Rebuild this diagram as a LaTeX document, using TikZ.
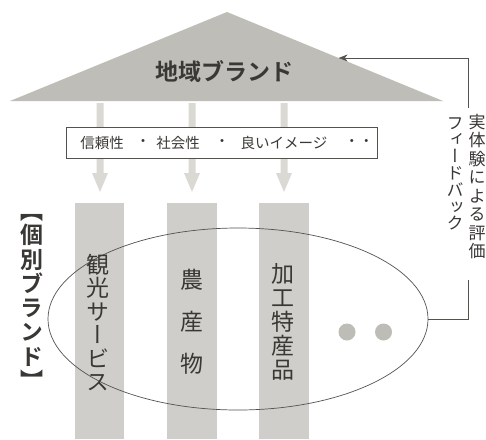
\documentclass[tikz,border=0pt]{standalone}
\usepackage{fontspec}
\usetikzlibrary{shapes.geometric,arrows.meta}
\newfontfamily\jp[BoldFont={Noto Sans CJK JP Bold}]{Noto Sans CJK JP}
\newfontfamily\jpv[RawFeature=+vert,BoldFont={Noto Sans CJK JP Bold}]{Noto Sans CJK JP}
\definecolor{trig}{HTML}{BEBDB8}
\definecolor{barg}{HTML}{CFCECA}
\definecolor{arrg}{HTML}{DAD9D4}
\definecolor{dotg}{HTML}{BDBCB6}
\definecolor{txt}{HTML}{3A3835}
\definecolor{linec}{HTML}{55524E}
\begin{document}
\begin{tikzpicture}[x=1pt,y=-1pt,
  barbox/.style={fill=barg,draw=none},
  grayarrow/.style={fill=arrg,draw=none},
  vtext/.style={align=center,inner sep=0pt,text=txt},
  boxtext/.style={inner sep=0pt,text=txt,font=\jp\fontsize{14.5}{15}\selectfont},
  thinline/.style={draw=linec,line width=0.7pt}]
\useasboundingbox[fill=white] (0,0) rectangle (486,439);
% triangle
\coordinate (apex) at (227,12);
\coordinate (bl) at (10,101);
\coordinate (br) at (443,101);
\fill[trig] (apex) -- (bl) -- (br) -- cycle;
\node[vtext,font=\jp\bfseries\fontsize{23}{24}\selectfont] (chiiki) at (224,72) {地域ブランド};
% gray arrows
\foreach \cx/\nm in {100/a1,192/a2,284/a3}{
  \fill[grayarrow] (\cx-3.5,103) -- (\cx+3.5,103) -- (\cx+3.5,173) -- (\cx+8,173)
     -- (\cx,192) -- (\cx-8,173) -- (\cx-3.5,173) -- cycle;
}
% box of values
\node[draw=linec,line width=0.6pt,fill=white,minimum width=311pt,minimum height=31pt,inner sep=0pt] (valbox) at (221.5,142.5) {};
\node[boxtext] (v1) at (102,143) {信頼性};
\node[boxtext] (d1) at (143,143) {・};
\node[boxtext] (v2) at (178,143) {社会性};
\node[boxtext] (d2) at (222,143) {・};
\node[boxtext] (v3) at (284,143) {良いイメージ};
\node[boxtext] (d3) at (359,143) {・・};
% bars
\fill[barbox] (75,203) rectangle (124,439);
\fill[barbox] (167,203) rectangle (217,439);
\fill[barbox] (259,203) rectangle (309,439);
% ellipse
\node[thinline,ellipse,minimum width=380pt,minimum height=182pt,inner sep=0pt] (ell) at (238,319) {};
% bar texts
\node[vtext,font=\jpv\fontsize{23}{23.5}\selectfont] (kanko) at (98,322.5) {観\\光\\サ\\ー\\ビ\\ス};
\node[vtext,font=\jpv\fontsize{23}{42}\selectfont] (nosan) at (192,322) {農\\産\\物};
\node[vtext,font=\jpv\fontsize{23}{24}\selectfont] (kako) at (283,322) {加\\工\\特\\産\\品};
% individual brand label
\node[vtext,font=\jpv\bfseries\fontsize{23}{24.3}\selectfont] (kobetsu) at (32,302) {【\\個\\別\\ブ\\ラ\\ン\\ド\\】};
% dots
\fill[dotg] (347,332) circle (8.5);
\fill[dotg] (383.5,332) circle (8.5);
% feedback
\coordinate (fbtip) at (338.6,58);
\coordinate (fbtop) at (468,108);
\coordinate (fbbot) at (468,280);
\draw[thinline] (ell.east) -| (fbbot);
\draw[thinline,-{Stealth[length=9pt,width=7pt]}] (fbtop) |- (fbtip);
\node[vtext,font=\jpv\fontsize{17}{18.5}\selectfont,anchor=north] (jitai) at (477,114) {実\\体\\験\\に\\よ\\る\\評\\価};
\node[vtext,font=\jpv\fontsize{17}{16.8}\selectfont,anchor=north] (fb) at (455,117) {フ\\ィ\\ー\\ド\\バ\\ッ\\ク};
\end{tikzpicture}
\end{document}
